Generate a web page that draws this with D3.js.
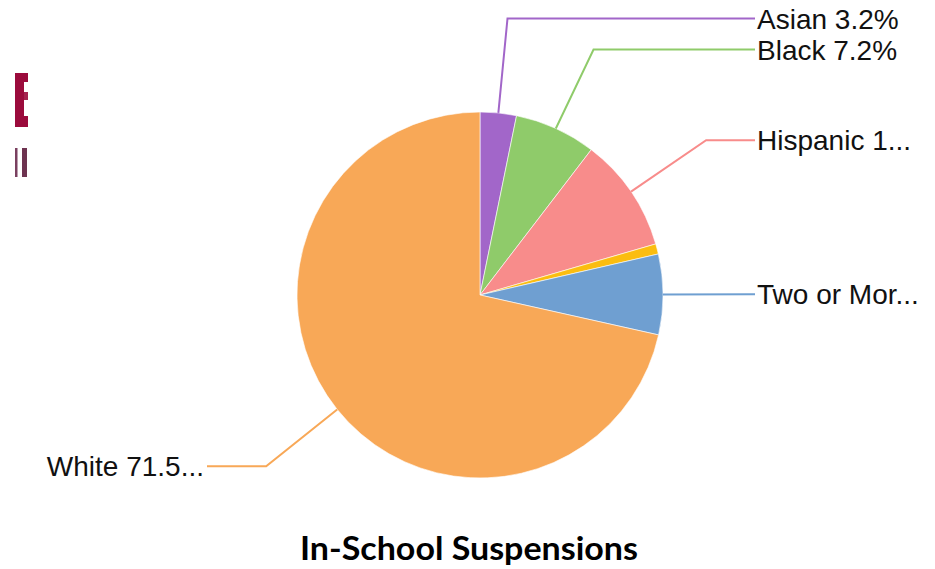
<!DOCTYPE html>
<html>
<head>
<meta charset="utf-8">
<script src="https://cdn.jsdelivr.net/npm/d3@7"></script>
<style>
  html, body { margin: 0; padding: 0; background: #fff; }
  svg { display: block; }
</style>
</head>
<body>
<svg id="chart" width="935" height="569"></svg>
<script>
// In-school suspensions by race/ethnicity (percent of total)
const categories = ["Asian", "Black", "Hispanic", "Other", "Two or More Races", "White"];
const values = [3.2, 7.2, 10.1, 0.9, 7.1, 71.5];
const colors = ["#a266c9", "#8fcb6a", "#f88c8b", "#fbbd10", "#6f9fd1", "#f8a857"];
const title = "In-School Suspensions";

const W = 935, H = 569;
const cx = 480, cy = 295, R = 183, elbowR = 274;
const rightX = 755, leftX = 207;
const maxChars = 10;
const labelSize = 28;
const minGap = 31;

const data = categories.map((c, i) => ({ name: c, value: values[i], color: colors[i] }));

const svg = d3.select("#chart");

// Cut-off letterhead strokes along the left border
const mark = svg.append("g");
[
  [15, 73, 9, 54, "#9b0b3c"],
  [24, 73, 4, 9, "#9b0b3c"],
  [24, 92, 4, 8, "#a5234f"],
  [24, 116, 4, 11, "#9b0b3c"],
  [15, 148, 2.5, 29, "#7a4060"],
  [22, 148, 5, 29, "#6e3350"]
].forEach(([x, y, w, h, c]) =>
  mark.append("rect").attr("x", x).attr("y", y).attr("width", w).attr("height", h).attr("fill", c));

const pie = d3.pie().sort(null).value(d => d.value);
const arcs = pie(data);

const arc = d3.arc().innerRadius(0).outerRadius(R);
const edgeArc = d3.arc().innerRadius(R).outerRadius(R);
const elbowArc = d3.arc().innerRadius(elbowR).outerRadius(elbowR);

const g = svg.append("g").attr("transform", `translate(${cx},${cy})`);

g.selectAll("path.slice")
  .data(arcs)
  .join("path")
  .attr("class", "slice")
  .attr("d", arc)
  .attr("fill", d => d.data.color)
  .attr("stroke", "#ffffff")
  .attr("stroke-width", 0.6);

// Leader lines and labels for slices large enough to carry one
const isRight = d => (d.startAngle + d.endAngle) / 2 < Math.PI;
const labelled = arcs.filter(d => d.data.value >= 1).map(d => {
  const p0 = edgeArc.centroid(d);
  const p1 = elbowArc.centroid(d);
  return { d, p0, p1, right: isRight(d) };
});

// Spread neighbouring labels on the same side apart so they don't collide
[true, false].forEach(side => {
  const items = labelled.filter(l => l.right === side).sort((a, b) => a.p1[1] - b.p1[1]);
  for (let k = 1; k < items.length; k++) {
    const gap = items[k].p1[1] - items[k - 1].p1[1];
    if (gap < minGap) {
      const push = (minGap - gap) / 2;
      items[k - 1].p1 = [items[k - 1].p1[0], items[k - 1].p1[1] - push];
      items[k].p1 = [items[k].p1[0], items[k].p1[1] + push];
    }
  }
});

g.selectAll("polyline.leader")
  .data(labelled)
  .join("polyline")
  .attr("class", "leader")
  .attr("fill", "none")
  .attr("stroke", l => l.d.data.color)
  .attr("stroke-width", 2)
  .attr("points", l => {
    const xEnd = (l.right ? rightX : leftX) - cx;
    return [l.p0, l.p1, [xEnd, l.p1[1]]].map(p => p.join(",")).join(" ");
  });

const labelText = d => {
  const full = `${d.data.name} ${d.data.value}%`;
  return full.length > maxChars ? full.slice(0, maxChars) + "..." : full;
};

g.selectAll("text.label")
  .data(labelled)
  .join("text")
  .attr("class", "label")
  .attr("x", l => (l.right ? rightX + 2 : leftX - 3) - cx)
  .attr("y", l => l.p1[1] + labelSize * 0.36)
  .attr("text-anchor", l => l.right ? "start" : "end")
  .attr("font-family", "Liberation Sans, Arial, Helvetica, sans-serif")
  .attr("font-size", labelSize)
  .attr("fill", "#111")
  .text(l => labelText(l.d));

svg.append("text")
  .attr("x", 469).attr("y", 560)
  .attr("text-anchor", "middle")
  .attr("font-family", "Lato, Carlito, Calibri, sans-serif")
  .attr("font-weight", "bold")
  .attr("font-size", 32)
  .attr("textLength", 338)
  .attr("lengthAdjust", "spacingAndGlyphs")
  .attr("fill", "#000")
  .text(title);
</script>
</body>
</html>
